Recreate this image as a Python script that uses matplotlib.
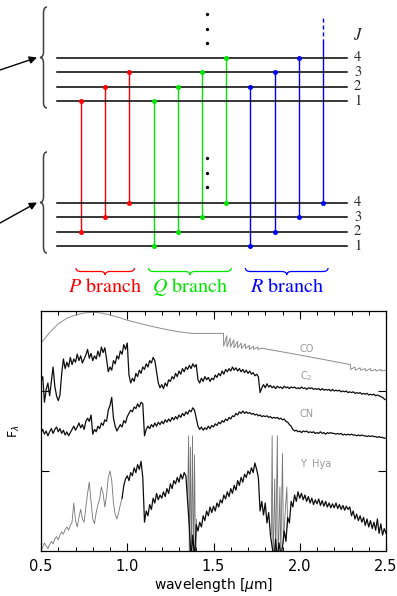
import numpy as np
import matplotlib.pyplot as plt
from matplotlib.path import Path
from matplotlib.patches import PathPatch
from matplotlib.ticker import MultipleLocator, FixedLocator

# rotational levels J and the transitions of each branch (upper J -> lower J)
levels_j = [1, 2, 3, 4]
p_upper = [1, 2, 3]
p_lower = [2, 3, 4]
q_upper = [1, 2, 3, 4]
q_lower = [1, 2, 3, 4]
r_upper = [2, 3, 4, 5]
r_lower = [1, 2, 3, 4]
branch_names = ['P', 'Q', 'R']
branch_colors = ['#ff0000', '#00e600', '#0000ff']

# model spectra, wavelength in micron
wave = np.round(np.arange(0.50, 2.505, 0.01), 2)

c2_flux = [
    2.12, 2.18, 1.86, 2.02, 2.10, 1.94, 2.12, 2.30, 2.06, 1.94,
    1.88, 1.95, 2.22, 2.40, 2.28, 2.36, 2.30, 2.42, 2.33, 2.40,
    2.36, 2.46, 2.38, 2.44, 2.35, 2.40, 2.45, 2.52, 2.41, 2.47,
    2.38, 2.44, 2.40, 2.50, 2.43, 2.55, 2.48, 2.54, 2.40, 2.24,
    2.30, 2.26, 2.38, 2.34, 2.44, 2.40, 2.50, 2.46, 2.58, 2.52,
    2.60, 2.20, 2.10, 2.16, 2.12, 2.22, 2.18, 2.26, 2.22, 2.30,
    2.27, 2.34, 2.30, 2.38, 2.35, 2.42, 2.38, 2.24, 2.10, 2.04,
    2.08, 2.03, 2.10, 2.06, 2.14, 2.12, 2.18, 2.15, 2.22, 2.18,
    2.25, 2.21, 2.28, 2.24, 2.30, 2.27, 2.32, 2.28, 2.34, 2.30,
    2.33, 2.14, 2.10, 2.16, 2.12, 2.18, 2.14, 2.17, 2.12, 2.16,
    2.14, 2.20, 2.17, 2.22, 2.19, 2.25, 2.21, 2.27, 2.24, 2.28,
    2.25, 2.30, 2.26, 2.29, 2.25, 2.28, 2.24, 2.27, 2.23, 2.26,
    2.22, 2.25, 2.21, 2.23, 2.19, 2.21, 2.18, 1.98, 2.04, 2.08,
    2.04, 2.09, 2.05, 2.07, 2.04, 2.06, 2.03, 2.06, 2.04, 2.05,
    2.03, 2.06, 2.04, 2.05, 2.03, 2.05, 2.04, 2.05, 2.03, 2.04,
    2.03, 2.05, 2.03, 2.04, 2.02, 2.04, 2.03, 2.04, 2.02, 2.03,
    2.02, 2.03, 2.01, 2.03, 2.01, 2.02, 2.01, 2.02, 2.00, 2.02,
    2.00, 2.01, 2.00, 2.01, 1.99, 2.00, 1.99, 2.00, 1.98, 1.99,
    1.98, 1.99, 1.97, 1.98, 1.97, 1.98, 1.96, 1.97, 1.96, 1.97,
    1.95, 1.96, 1.95, 1.96, 1.94, 1.95, 1.94, 1.93, 1.92, 1.90,
    1.89]

cn_flux = [
    1.48, 1.52, 1.46, 1.50, 1.44, 1.49, 1.53, 1.47, 1.52, 1.55,
    1.49, 1.53, 1.47, 1.51, 1.45, 1.49, 1.44, 1.48, 1.52, 1.56,
    1.51, 1.55, 1.60, 1.54, 1.58, 1.52, 1.62, 1.66, 1.62, 1.70,
    1.46, 1.52, 1.49, 1.56, 1.53, 1.60, 1.57, 1.64, 1.62, 1.76,
    1.82, 1.92, 1.66, 1.56, 1.50, 1.54, 1.58, 1.55, 1.63, 1.60,
    1.68, 1.72, 1.76, 1.74, 1.80, 1.78, 1.84, 1.80, 1.86, 1.84,
    1.44, 1.52, 1.56, 1.53, 1.58, 1.55, 1.60, 1.56, 1.61, 1.58,
    1.62, 1.59, 1.64, 1.61, 1.65, 1.62, 1.67, 1.64, 1.68, 1.65,
    1.70, 1.67, 1.72, 1.69, 1.74, 1.71, 1.76, 1.74, 1.79, 1.76,
    1.66, 1.56, 1.52, 1.55, 1.51, 1.54, 1.52, 1.56, 1.53, 1.57,
    1.55, 1.59, 1.57, 1.61, 1.59, 1.63, 1.61, 1.65, 1.63, 1.67,
    1.65, 1.69, 1.68, 1.72, 1.70, 1.74, 1.72, 1.75, 1.72, 1.74,
    1.72, 1.73, 1.71, 1.72, 1.70, 1.71, 1.69, 1.70, 1.68, 1.69,
    1.68, 1.69, 1.67, 1.68, 1.66, 1.67, 1.66, 1.67, 1.65, 1.66,
    1.64, 1.65, 1.62, 1.61, 1.58, 1.56, 1.52, 1.50, 1.51, 1.49,
    1.50, 1.48, 1.50, 1.49, 1.50, 1.48, 1.49, 1.48, 1.49, 1.47,
    1.48, 1.47, 1.49, 1.47, 1.48, 1.46, 1.48, 1.47, 1.48, 1.47,
    1.47, 1.46, 1.47, 1.46, 1.47, 1.45, 1.46, 1.45, 1.46, 1.45,
    1.46, 1.45, 1.45, 1.44, 1.45, 1.44, 1.45, 1.44, 1.44, 1.43,
    1.44, 1.43, 1.44, 1.43, 1.43, 1.42, 1.43, 1.42, 1.42, 1.41,
    1.41]

yhya_flux = [
    0.00, 0.05, 0.10, 0.06, 0.03, 0.08, 0.12, 0.09, 0.15, 0.18,
    0.14, 0.20, 0.24, 0.21, 0.27, 0.30, 0.26, 0.32, 0.36, 0.60,
    0.38, 0.30, 0.42, 0.52, 0.40, 0.36, 0.55, 0.72, 0.86, 0.62,
    0.40, 0.34, 0.48, 0.58, 0.65, 0.80, 0.72, 0.55, 0.70, 0.92,
    1.00, 0.88, 0.60, 0.46, 0.40, 0.48, 0.58, 0.66, 0.82, 0.90,
    0.94, 0.88, 0.98, 0.94, 1.04, 0.98, 1.08, 1.02, 1.12, 0.92,
    0.36, 0.50, 0.44, 0.58, 0.52, 0.66, 0.60, 0.72, 0.64, 0.70,
    0.66, 0.74, 0.68, 0.78, 0.72, 0.84, 0.78, 0.88, 0.84, 0.92,
    0.86, 0.96, 0.90, 0.98, 0.94, 0.62, 0.30, -0.10, 0.20, -0.10,
    0.33, 0.25, 0.36, 0.30, 0.44, 0.38, 0.50, 0.44, 0.55, 0.48,
    0.56, 0.50, 0.60, 0.55, 0.64, 0.60, 0.70, 0.65, 0.74, 0.68,
    0.78, 0.72, 0.82, 0.76, 0.88, 0.82, 0.92, 0.86, 0.96, 0.92,
    1.00, 0.96, 1.04, 0.98, 1.10, 1.02, 0.92, 0.50, 0.62, 0.45,
    0.60, 0.35, 0.48, 0.20, 0.05, -0.10, 0.15, -0.10, 0.10, -0.05,
    0.05, 0.25, 0.12, 0.42, 0.35, 0.62, 0.55, 0.70, 0.62, 0.74,
    0.66, 0.72, 0.64, 0.70, 0.62, 0.68, 0.60, 0.66, 0.58, 0.64,
    0.59, 0.65, 0.57, 0.63, 0.56, 0.62, 0.55, 0.60, 0.54, 0.59,
    0.54, 0.60, 0.53, 0.58, 0.52, 0.57, 0.51, 0.56, 0.52, 0.55,
    0.44, 0.50, 0.40, 0.46, 0.38, 0.44, 0.36, 0.42, 0.32, 0.40,
    0.30, 0.38, 0.28, 0.36, 0.26, 0.40, 0.22, 0.34, 0.20, 0.28,
    0.22]

# telluric water bands in the Y Hya spectrum
tell1_wave = [1.350, 1.356, 1.360, 1.366, 1.372, 1.378, 1.384, 1.390, 1.396, 1.402]
tell1_flux = [0.70, 1.44, -0.20, 1.30, -0.20, 1.44, -0.20, 1.20, -0.20, 0.40]
tell2_wave = [1.835, 1.840, 1.845, 1.855, 1.860, 1.870, 1.875, 1.885, 1.890, 1.900, 1.905, 1.925, 1.930]
tell2_flux = [0.20, 1.44, -0.20, 0.90, -0.20, 1.44, -0.20, 0.80, -0.10, 1.22, 0.10, 0.80, 0.30]

co_wave = [0.50, 0.55, 0.60, 0.65, 0.70, 0.75, 0.80, 0.85, 0.90, 0.95,
           1.00, 1.10, 1.20, 1.30, 1.375, 1.45, 1.545,
           1.558, 1.559, 1.577, 1.578, 1.597, 1.598, 1.618, 1.619, 1.639, 1.640,
           1.661, 1.662, 1.684, 1.685, 1.708, 1.709, 1.732, 1.733, 1.757, 1.758,
           1.780, 2.00, 2.294,
           2.295, 2.320, 2.323, 2.350, 2.353, 2.380, 2.383, 2.410, 2.413, 2.440,
           2.443, 2.470, 2.473, 2.500]
co_flux = [2.60, 2.73, 2.84, 2.91, 2.95, 2.975, 2.985, 2.975, 2.95, 2.92,
           2.885, 2.83, 2.78, 2.74, 2.72, 2.72, 2.72,
           2.72, 2.56, 2.69, 2.55, 2.66, 2.55, 2.64, 2.54, 2.62, 2.54,
           2.60, 2.53, 2.59, 2.53, 2.57, 2.52, 2.56, 2.52, 2.55, 2.52,
           2.535, 2.45, 2.33,
           2.27, 2.30, 2.26, 2.29, 2.26, 2.28, 2.25, 2.28, 2.25, 2.27,
           2.25, 2.27, 2.25, 2.26]

spec_labels = ['CO', 'C$_2$', 'CN', 'Y  Hya']
label_y = [2.53, 2.19, 1.71, 1.09]


def curly_brace(ax, p0, p1, depth, r, color='0.25', lw=1.1):
    # brace from p0 to p1 with its tip pushed 'depth' to the side
    p0 = np.array(p0, float)
    p1 = np.array(p1, float)
    L = np.linalg.norm(p1 - p0)
    t = (p1 - p0) / L
    n = np.array([-t[1], t[0]])
    h = depth
    local = [(0, 0), (0, h / 2), (r, h / 2), (L / 2 - r, h / 2),
             (L / 2, h / 2), (L / 2, h), (L / 2, h / 2), (L / 2 + r, h / 2),
             (L - r, h / 2), (L, h / 2), (L, 0)]
    verts = [p0 + u * t + v * n for u, v in local]
    codes = [Path.MOVETO, Path.CURVE3, Path.CURVE3, Path.LINETO,
             Path.CURVE3, Path.CURVE3, Path.CURVE3, Path.CURVE3,
             Path.LINETO, Path.CURVE3, Path.CURVE3]
    ax.add_patch(PathPatch(Path(verts, codes), fc='none', ec=color, lw=lw))


fig = plt.figure(figsize=(3.97, 5.96), dpi=100)

# ---- energy level diagram (pixel coordinates) ----
axd = fig.add_axes([0, 0, 1, 1])
axd.set_xlim(0, 397)
axd.set_ylim(596, 0)
axd.axis('off')

serif = 'STIXGeneral'
dy = 14.4
up_y = lambda j: 101 - (j - 1) * dy
lo_y = lambda j: 246 - (j - 1) * dy
col_x = lambda i: 81 + 24.2 * i

for j in levels_j:
    for y in (up_y(j), lo_y(j)):
        axd.plot([57, 347], [y, y], color='k', lw=1.1, zorder=3)
        axd.text(354, y, str(j), ha='left', va='center', fontsize=10.5,
                 family=serif, color='0.15')
axd.text(358, 35, '$J$', ha='center', va='center', fontsize=12,
         math_fontfamily='stix', color='0.15')

branches = [(p_upper, p_lower), (q_upper, q_lower), (r_upper, r_lower)]
i = 0
jmax = max(levels_j)
for (ups, lows), col, name in zip(branches, branch_colors, branch_names):
    first = col_x(i)
    for u, l in zip(ups, lows):
        x = col_x(i)
        axd.plot([x, x], [lo_y(l), up_y(u)], color=col, lw=1.0, zorder=2)
        axd.plot(x, lo_y(l), 'o', color=col, ms=3.6, mec='none', zorder=4)
        if u <= jmax:
            axd.plot(x, up_y(u), 'o', color=col, ms=3.6, mec='none', zorder=4)
        else:
            axd.plot([x, x], [up_y(u), up_y(u) - 26], color=col, lw=1.0,
                     ls=(0, (3, 2)), zorder=2)
        i += 1
    last = col_x(i - 1)
    curly_brace(axd, (first - 5, 268), (last + 5, 268), 7, 5, color=col, lw=0.9)
    axd.text((first + last) / 2, 287, '$' + name + '$ branch', ha='center',
             va='center', fontsize=14.5, family=serif, math_fontfamily='stix',
             color=col)

# ellipses above the levels
for y0 in (14, 158):
    axd.plot([207, 207, 207], [y0, y0 + 14.5, y0 + 29], 'o', color='k',
             ms=2.4, mec='none')

# electronic state braces and arrows
curly_brace(axd, (47, 7), (47, 108), 7, 6)
curly_brace(axd, (47, 152), (47, 253), 7, 6)
for y_tip, y_tail in ((57.5, 70), (202.5, 223)):
    axd.annotate('', xy=(37, y_tip), xytext=(0, y_tail),
                 arrowprops=dict(arrowstyle='-|>', color='k', lw=1.0,
                                 mutation_scale=11, shrinkA=0, shrinkB=0))

# ---- spectra ----
ax = fig.add_axes([41 / 397, 45 / 596, 345 / 397, 240 / 596])
blue_part = wave <= 0.97
red_part = wave >= 0.97
yh = np.array(yhya_flux)

ax.plot(co_wave, co_flux, color='0.55', lw=0.7)
ax.plot(tell1_wave, tell1_flux, color='0.45', lw=0.6)
ax.plot(tell2_wave, tell2_flux, color='0.45', lw=0.6)
ax.plot(wave, c2_flux, color='0.05', lw=0.9)
ax.plot(wave, cn_flux, color='0.05', lw=0.9)
ax.plot(wave[blue_part], yh[blue_part], color='0.45', lw=0.6)
ax.plot(wave[red_part], yh[red_part], color='0.05', lw=0.9)

for lab, y in zip(spec_labels, label_y):
    ax.text(2.0, y, lab, color='0.6', fontsize=7, va='center', ha='left')

ax.set_xlim(0.5, 2.5)
ax.set_ylim(0, 3)
ax.xaxis.set_major_locator(FixedLocator([0.5, 1.0, 1.5, 2.0, 2.5]))
ax.xaxis.set_minor_locator(MultipleLocator(0.1))
ax.set_xticklabels(['0.5', '1.0', '1.5', '2.0', '2.5'])
ax.set_yticks([1, 2])
ax.set_yticklabels([])
ax.tick_params(which='both', direction='in', top=True, right=True,
               labelsize=10.5, pad=6)
ax.tick_params(which='major', length=5.5, width=0.8)
ax.tick_params(which='minor', length=2.8, width=0.7)
for s in ax.spines.values():
    s.set_linewidth(0.9)
ax.set_xlabel('wavelength [$\\mu$m]', fontsize=10, labelpad=1)
fig.text(14 / 397, 1 - 431 / 596, 'F$_\\lambda$', rotation=90, ha='center',
         va='center', fontsize=9)

fig.savefig('out.png', dpi=100)
